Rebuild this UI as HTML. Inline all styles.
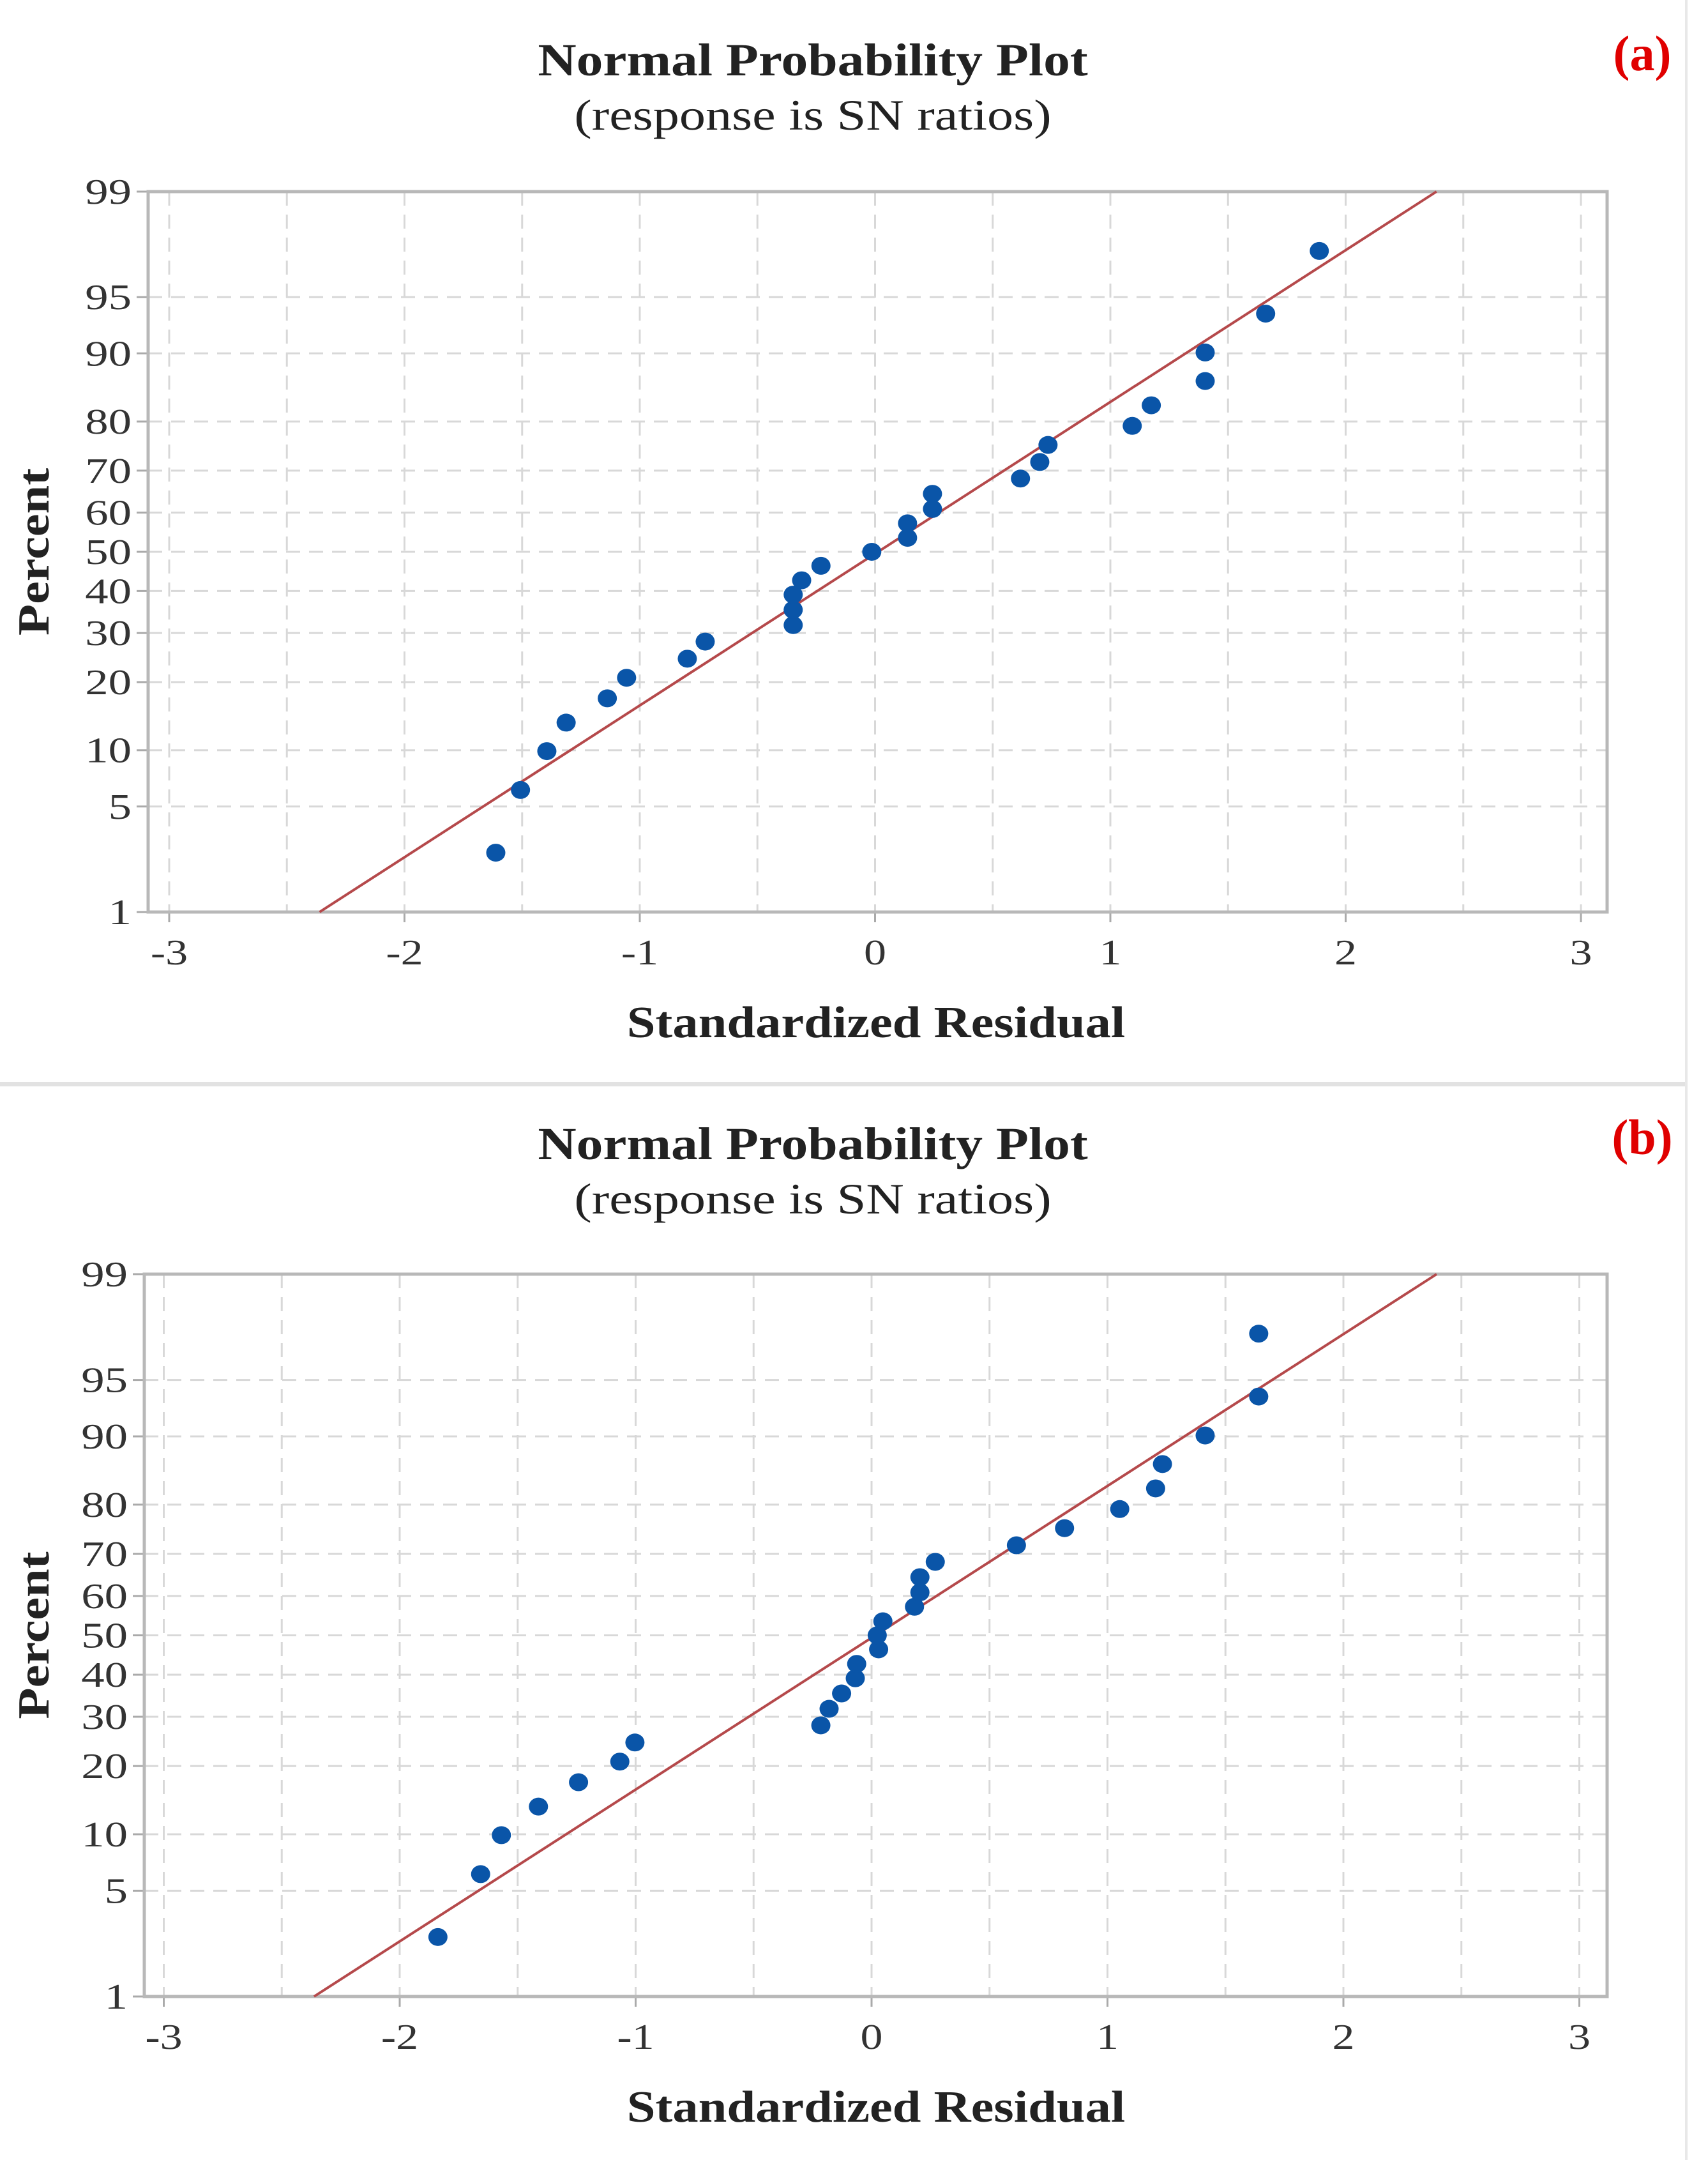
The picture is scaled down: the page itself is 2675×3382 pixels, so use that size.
<!DOCTYPE html>
<html><head><meta charset="utf-8"><style>
html,body{margin:0;padding:0;background:#fff}
svg{display:block}
</style></head><body>
<svg id="chart" width="2675" height="3382" viewBox="0 0 2675 3382" xmlns="http://www.w3.org/2000/svg">
<rect x="0" y="0" width="2675" height="3382" fill="#fff"/>
<rect x="0" y="1694" width="2643" height="7" fill="#e2e2e2"/>
<rect x="2639" y="0" width="4" height="3382" fill="#e8e8e8"/>
</svg>
<script>
// Panel (a) data
const pctA = [2.6,6.2,9.9,13.5,17.2,20.8,24.5,28.1,31.8,35.4,39.1,42.7,46.4,50,53.6,57.3,60.9,64.6,68.2,71.9,75.5,79.2,82.8,86.5,90.1,93.8,97.4];
const resA = [-1.612,-1.507,-1.395,-1.313,-1.138,-1.056,-0.798,-0.722,-0.348,-0.348,-0.348,-0.312,-0.230,-0.014,0.138,0.138,0.244,0.244,0.618,0.700,0.735,1.093,1.174,1.403,1.403,1.660,1.888];
const fitA = [-2.361,2.386]; // residual at 1% and 99%
// Panel (b) data
const pctB = [2.6,6.2,9.9,13.5,17.2,20.8,24.5,28.1,31.8,35.4,39.1,42.7,46.4,50,53.6,57.3,60.9,64.6,68.2,71.9,75.5,79.2,82.8,86.5,90.1,93.8,97.4];
const resB = [-1.838,-1.657,-1.569,-1.412,-1.242,-1.067,-1.003,-0.215,-0.180,-0.127,-0.069,-0.063,0.030,0.024,0.048,0.182,0.205,0.205,0.270,0.614,0.818,1.052,1.204,1.233,1.414,1.641,1.641];
const fitB = [-2.363,2.395];
const yTicks = [1,5,10,20,30,40,50,60,70,80,90,95,99];
const xTicks = [-3,-2,-1,0,1,2,3];
const xGrid = [-3,-2.5,-2,-1.5,-1,-0.5,0,0.5,1,1.5,2,2.5,3];

const NS='http://www.w3.org/2000/svg';
const svg=document.getElementById('chart');
function mk(tag,attrs,parent){const e=document.createElementNS(NS,tag);for(const k in attrs)e.setAttribute(k,attrs[k]);(parent||svg).appendChild(e);return e;}
function txt(parent,x,y,s,anchor,size,bold,fill,sx,rot){
 const t=mk('text',{x:0,y:0,'text-anchor':anchor,'font-family':'"Liberation Serif",serif','font-size':size,fill:fill,transform:`translate(${x},${y})${rot?' rotate(-90)':''} scale(${sx},1)`},parent);
 if(bold)t.setAttribute('font-weight','bold');
 t.textContent=s;return t;
}
function invNorm(p){
 const a=[-39.69683028665376,220.9460984245205,-275.9285104469687,138.357751867269,-30.66479806614716,2.506628277459239];
 const b=[-54.47609879822406,161.5858368580409,-155.6989798598866,66.80131188771931,-13.28068155288572];
 const c=[-0.007784894002430293,-0.3223964580411365,-2.400758277161838,-2.549732539343734,4.374664141464968,2.938163982698783];
 const d=[0.007784695709041462,0.3224671290700398,2.445134137142996,3.754408661907416];
 const pl=0.02425;let q,r;
 if(p<pl){q=Math.sqrt(-2*Math.log(p));return(((((c[0]*q+c[1])*q+c[2])*q+c[3])*q+c[4])*q+c[5])/((((d[0]*q+d[1])*q+d[2])*q+d[3])*q+1);}
 if(p>1-pl){q=Math.sqrt(-2*Math.log(1-p));return-(((((c[0]*q+c[1])*q+c[2])*q+c[3])*q+c[4])*q+c[5])/((((d[0]*q+d[1])*q+d[2])*q+d[3])*q+1);}
 q=p-0.5;r=q*q;return(((((a[0]*r+a[1])*r+a[2])*r+a[3])*r+a[4])*r+a[5])*q/(((((b[0]*r+b[1])*r+b[2])*r+b[3])*r+b[4])*r+1);
}
function panel(cfg){
 const g=mk('g',{});
 
 
 const {L,R,T,B,x0,ux,oy}=cfg;
 const zTop=invNorm(0.99);
 const sy=p=>{const z=invNorm(p/100);return (T+B)/2 - z*(B-T)/(2*zTop);};
 const sx=v=>x0+v*ux;
 let t=txt(g,1273,oy+118,'Normal Probability Plot','middle',72,true,'#222',1.16,false);
 
 
 t=txt(g,1273,oy+203,'(response is SN ratios)','middle',68,false,'#222',1.21,false);
 
 
 t=txt(g,2572,oy+110,cfg.label,'middle',78,true,'#e00000',1.0,false);
 
 
 xGrid.forEach(v=>{const l=mk('line',{x1:sx(v),x2:sx(v),y1:T,y2:B,stroke:'#d8d8d8','stroke-width':3,'stroke-dasharray':'22 14'},g);
  
  });
 yTicks.forEach(p=>{const y=sy(p);
  const l=mk('line',{x1:L,x2:R,y1:y,y2:y,stroke:'#d8d8d8','stroke-width':3,'stroke-dasharray':'22 14'},g);
  
  
  const tk=mk('line',{x1:L-18,x2:L,y1:y,y2:y,stroke:'#aaa','stroke-width':3},g);
  
  
  const tl=txt(g,L-26,y+19,String(p),'end',56,false,'#333',1.3,false);
  
  });
 xTicks.forEach(v=>{const x=sx(v);
  const tk=mk('line',{x1:x,x2:x,y1:B,y2:B+16,stroke:'#aaa','stroke-width':3},g);
  
  
  const tl=txt(g,x,B+82,String(v),'middle',56,false,'#333',1.25,false);
  
  });
 const fr=mk('rect',{x:L,y:T,width:R-L,height:B-T,fill:'none',stroke:'#b8b8b8','stroke-width':5},g);
 
 
 const fl=mk('line',{x1:sx(cfg.fit[0]),y1:sy(1),x2:sx(cfg.fit[1]),y2:sy(99),stroke:'#b5494b','stroke-width':4},g);
 
 
 cfg.res.forEach((v,i)=>{const c=mk('ellipse',{cx:sx(v),cy:sy(cfg.pct[i]),rx:15,ry:14,fill:'#0a55a8'},g);
  
  });
 t=txt(g,1372,B+196,'Standardized Residual','middle',70,true,'#222',1.15,false);
 
 
 t=txt(g,76,(T+B)/2,'Percent','middle',70,true,'#222',1.15,true);
 
 
}
panel({name:'panel-a',label:'(a)',L:232,R:2517,T:300,B:1428,x0:1370.5,ux:368.5,oy:0,pct:pctA,res:resA,fit:fitA});
panel({name:'panel-b',label:'(b)',L:226,R:2517,T:1995,B:3126,x0:1365,ux:369.5,oy:1697,pct:pctB,res:resB,fit:fitB});
</script>
</body></html>
